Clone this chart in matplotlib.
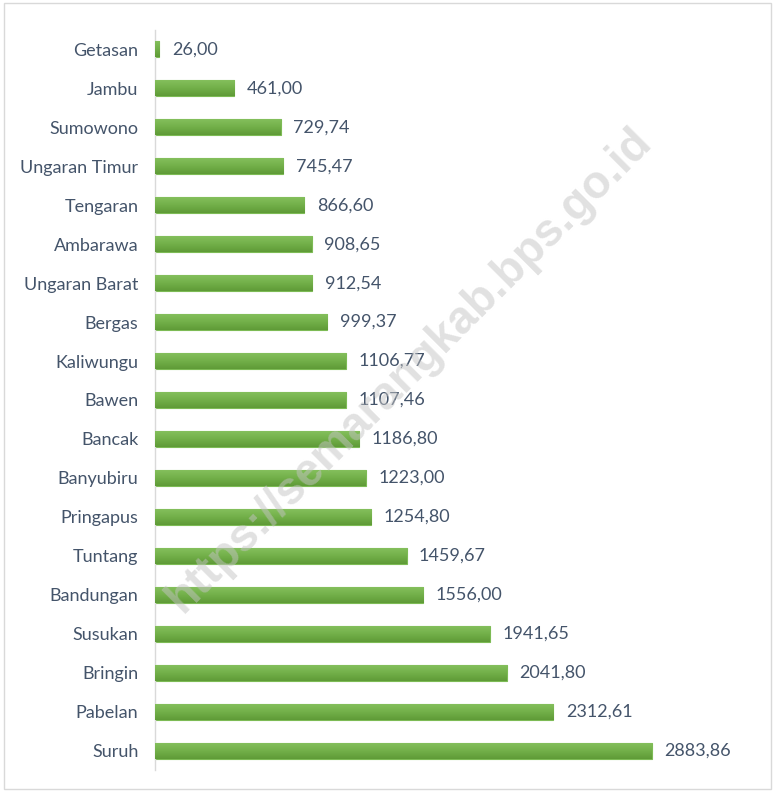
import matplotlib
matplotlib.use("Agg")
import matplotlib.pyplot as plt
import numpy as np
from matplotlib.patches import Rectangle
from matplotlib.colors import LinearSegmentedColormap

categories = ["Getasan", "Jambu", "Sumowono", "Ungaran Timur", "Tengaran", "Ambarawa",
              "Ungaran Barat", "Bergas", "Kaliwungu", "Bawen", "Bancak", "Banyubiru",
              "Pringapus", "Tuntang", "Bandungan", "Susukan", "Bringin", "Pabelan", "Suruh"]
values = [26.00, 461.00, 729.74, 745.47, 866.60, 908.65, 912.54, 999.37, 1106.77,
          1107.46, 1186.80, 1223.00, 1254.80, 1459.67, 1556.00, 1941.65, 2041.80,
          2312.61, 2883.86]
value_labels = [f"{v:.2f}".replace(".", ",") for v in values]

plt.rcParams['font.family'] = ['Lato', 'DejaVu Sans']
text_color = "#44546A"

fig = plt.figure(figsize=(7.76, 7.91), dpi=100)
ax = fig.add_axes([155/776, 1 - 770/791, (766-155)/776, 740/791])

y = np.arange(len(categories))
bars = ax.barh(y, values, height=0.41, color="#70AD47", edgecolor="#7DBB55", linewidth=0.8, zorder=2)

grad = np.linspace(0, 1, 50).reshape(-1, 1)
cmap = LinearSegmentedColormap.from_list("g", ["#84BF5C", "#72AF49", "#5F9B37"])
for b in bars:
    x0, y0, w, h = b.get_x(), b.get_y(), b.get_width(), b.get_height()
    im = ax.imshow(grad, cmap=cmap, aspect="auto", extent=(x0, x0 + w, y0 + h, y0),
                   zorder=3, origin="upper")
    im.set_clip_path(b)

ax.set_ylim(len(categories) - 0.5, -0.5)
ax.set_xlim(0, 611 / 0.1723)
ax.set_yticks(y)
ax.set_yticklabels(categories, fontsize=13, color=text_color)
ax.tick_params(axis="y", length=0, pad=12)
ax.set_xticks([])
for s in ["top", "right", "bottom"]:
    ax.spines[s].set_visible(False)
ax.spines["left"].set_color("#D9D9D9")
ax.spines["left"].set_linewidth(1)

for yi, v, lab in zip(y, values, value_labels):
    ax.annotate(lab, xy=(v, yi), xytext=(9, 0), textcoords="offset points",
                ha="left", va="center", fontsize=13, color=text_color, zorder=4)

# watermark
fig.text(410/776, 1 - 370/791, "https://semarangkab.bps.go.id", rotation=45,
         ha="center", va="center", fontsize=33, fontweight="bold",
         family="Liberation Sans", color="#C4C4C4", alpha=0.5, zorder=10)

# figure border
fig.patches.append(Rectangle((4/776, 2/791), 767/776, 786/791, transform=fig.transFigure,
                             fill=False, edgecolor="#D9D9D9", linewidth=1))

fig.savefig("out.png", dpi=100)
